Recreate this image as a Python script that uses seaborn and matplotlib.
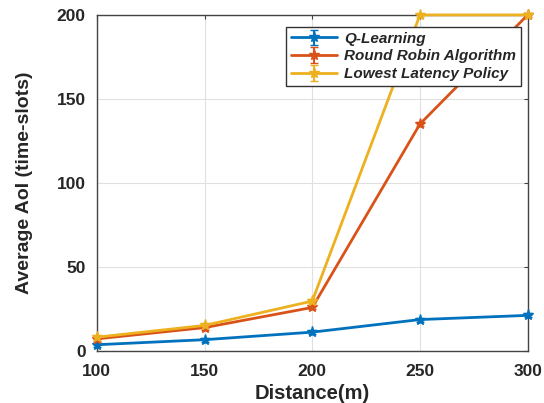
import numpy as np
import pandas as pd
import matplotlib
matplotlib.use('Agg')
import matplotlib.pyplot as plt
import seaborn as sns

#Data
distance = [100, 150, 200, 250, 300]
q_learning = [3.5, 6.5, 11, 18.5, 21]
round_robin = [7, 13.7, 25.7, 135, 200]
lowest_latency = [8, 15, 29.5, 200, 200]
err = [1.2, 1.2, 1.2, 1.2, 1.2]

names = ['Q-Learning', 'Round Robin Algorithm', 'Lowest Latency Policy']
colors = ['#0072BD', '#D95319', '#EDB120']

sns.set_style('whitegrid')
plt.rcParams['font.family'] = ['Liberation Sans', 'DejaVu Sans']
plt.rcParams['font.weight'] = 'bold'

fig, ax = plt.subplots(figsize=(5.44, 4.03), dpi=100)

for vals, name, c in zip([q_learning, round_robin, lowest_latency], names, colors):
    ax.errorbar(distance, vals, yerr=err, color=c, lw=2, marker='*', ms=8,
                capsize=3, elinewidth=1.5, label=name, clip_on=False, zorder=3)

ax.set_xlim(100, 300)
ax.set_ylim(0, 200)
ax.set_xticks([100, 150, 200, 250, 300])
ax.set_yticks([0, 50, 100, 150, 200])
ax.grid(True, color='#e0e0e0', lw=0.8)
for s in ax.spines.values():
    s.set_color('#444444')
    s.set_linewidth(1)
ax.tick_params(labelsize=12.5, length=3, direction='in', color='#444444',
               labelcolor='#262626', top=True, right=True)
ax.tick_params(axis='x', pad=10)
ax.tick_params(axis='y', pad=8)
for lab in ax.get_xticklabels() + ax.get_yticklabels():
    lab.set_fontweight('bold')
ax.set_xlabel('Distance(m)', fontsize=14.5, fontweight='bold', color='#262626', labelpad=3)
ax.set_ylabel('Average AoI (time-slots)', fontsize=14, fontweight='bold', color='#262626', labelpad=17)

leg = ax.legend(loc='upper right', bbox_to_anchor=(0.984, 0.964), borderaxespad=0,
                fancybox=False, framealpha=1, edgecolor='#333333', borderpad=0.3,
                labelspacing=0.25, handlelength=3.0, handletextpad=0.5,
                prop={'style': 'italic', 'weight': 'bold', 'size': 11})

plt.subplots_adjust(left=0.178, right=0.97, top=0.963, bottom=0.13)
fig.savefig('out.png', dpi=100)
